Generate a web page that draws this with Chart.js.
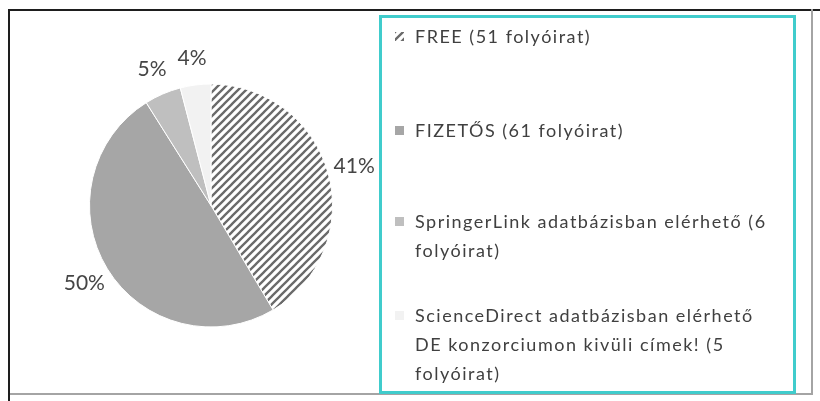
<!DOCTYPE html>
<html>
<head>
<meta charset="utf-8">
<script src="https://cdn.jsdelivr.net/npm/chart.js@4.4.1/dist/chart.umd.min.js"></script>
<style>
html, body { margin: 0; padding: 0; background: #fff; }
#wrap { position: relative; width: 820px; height: 401px; overflow: hidden; font-family: Lato, sans-serif; color: #404040; }
#myChart { position: absolute; left: 0; top: 0; }
.line { position: absolute; }
.legend-box { position: absolute; left: 379px; top: 15px; width: 411px; height: 373px; border: 3px solid #40cccc; }
.item { position: absolute; left: 0; font-size: 18px; line-height: 29px; letter-spacing: 1.5px; white-space: nowrap; }
.item .mark { position: absolute; left: 395px; width: 9px; height: 9px; }
.item .txt { position: absolute; left: 415px; }
</style>
</head>
<body>
<div id="wrap">
  <canvas id="myChart" width="820" height="401"></canvas>
  <div class="line" style="left:8px;top:9px;width:812px;height:2px;background:#1e1e1e"></div>
  <div class="line" style="left:8px;top:9px;width:2px;height:392px;background:#1e1e1e"></div>
  <div class="line" style="left:811px;top:9px;width:2px;height:386px;background:#a4a4a4"></div>
  <div class="line" style="left:10px;top:393px;width:803px;height:2px;background:#a4a4a4"></div>
  <div class="legend-box"></div>
  <div id="legend"></div>
</div>
<script>
const labels = [
    ['FREE (51 folyóirat)'],
    ['FIZETŐS (61 folyóirat)'],
    ['SpringerLink adatbázisban elérhető (6', 'folyóirat)'],
    ['ScienceDirect adatbázisban elérhető', 'DE konzorciumon kivüli címek! (5', 'folyóirat)'],
]
const values = [51, 61, 6, 5]

// slice fills, first one is the hatch
const fills = ['hatch', '#a6a6a6', '#bfbfbf', '#f2f2f2']
// first baseline of each legend entry
const legendBaselines = [43, 137, 228, 322]

const ctx = document.getElementById('myChart').getContext('2d')

function makeHatch() {
    const s = 8
    const p = document.createElement('canvas')
    p.width = s
    p.height = s
    const g = p.getContext('2d')
    g.fillStyle = '#fff'
    g.fillRect(0, 0, s, s)
    g.strokeStyle = '#6a6a6a'
    g.lineWidth = 2.3
    g.beginPath()
    g.moveTo(-1, s + 1); g.lineTo(s + 1, -1)
    g.moveTo(-1, 1); g.lineTo(1, -1)
    g.moveTo(s - 1, s + 1); g.lineTo(s + 1, s - 1)
    g.stroke()
    return p
}
const hatchTile = makeHatch()
const hatch = ctx.createPattern(hatchTile, 'repeat')

const total = values.reduce((a, b) => a + b, 0)

// percentage labels outside the pie
const pctLabels = {
    id: 'pctLabels',
    afterDatasetsDraw(chart) {
        const c = chart.ctx
        const meta = chart.getDatasetMeta(0)
        c.save()
        c.font = '21px Lato'
        c.fillStyle = '#454545'
        c.textAlign = 'center'
        c.textBaseline = 'middle'
        meta.data.forEach((arc, i) => {
            const p = arc.getProps(['x', 'y', 'startAngle', 'endAngle', 'outerRadius'], true)
            const mid = (p.startAngle + p.endAngle) / 2
            const r = p.outerRadius + 27
            c.fillText(Math.round(values[i] / total * 100) + '%', p.x + Math.cos(mid) * r, p.y + Math.sin(mid) * r)
        })
        c.restore()
    }
}

const config = {
    type: 'pie',
    data: {
        labels,
        datasets: [{
            data: values,
            backgroundColor: fills.map(f => f === 'hatch' ? hatch : f),
            borderColor: '#fff',
            borderWidth: 1,
        }]
    },
    options: {
        responsive: false,
        animation: false,
        layout: { padding: { left: 89, right: 487, top: 82, bottom: 72 } },
        plugins: {
            legend: { display: false },
            tooltip: { enabled: false },
        },
    },
    plugins: [pctLabels],
}
const myChart = new Chart(ctx, config)

// html legend
const legendEl = document.getElementById('legend')
const hatchUrl = hatchTile.toDataURL()
labels.forEach((lines, i) => {
    const item = document.createElement('div')
    item.className = 'item'
    item.style.top = (legendBaselines[i] - 21) + 'px'
    const mark = document.createElement('div')
    mark.className = 'mark'
    mark.style.top = '10px'
    if (fills[i] === 'hatch') mark.style.background = 'url(' + hatchUrl + ')'
    else mark.style.background = fills[i]
    const txt = document.createElement('div')
    txt.className = 'txt'
    txt.innerHTML = lines.join('<br>')
    item.appendChild(mark)
    item.appendChild(txt)
    legendEl.appendChild(item)
})
</script>
</body>
</html>
